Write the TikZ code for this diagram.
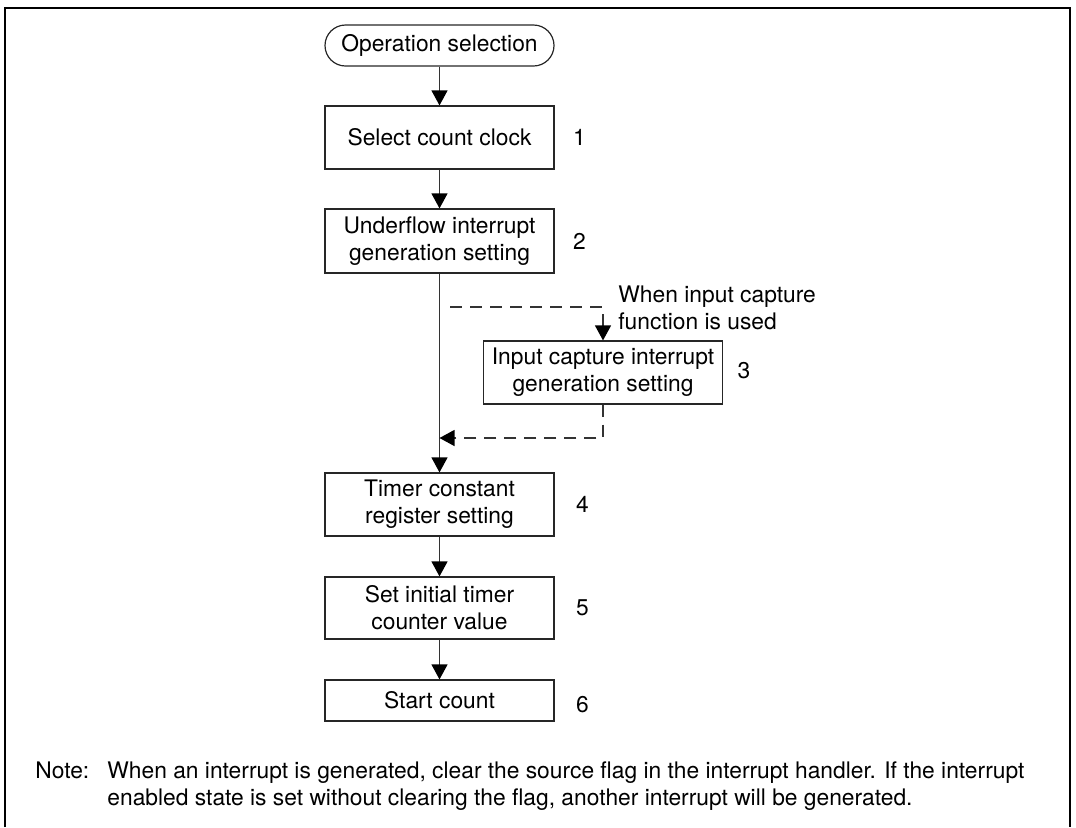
\documentclass[tikz,border=0pt]{standalone}
\usepackage{fontspec}
\setmainfont{TeX Gyre Heros}
\usetikzlibrary{positioning,arrows.meta}

\tikzset{
  stepbox/.style={draw=black!85,line width=0.6pt,minimum width=114.5pt,
    minimum height=31.5pt,align=center,inner sep=2pt},
  termbox/.style={stepbox,minimum height=20.5pt,rounded corners=10.25pt},
  num/.style={inner sep=0pt},
  flow/.style={draw=black!80,line width=0.6pt,
    -{Triangle[length=7.5pt,width=8pt,color=black]}},
  opt/.style={flow,dash pattern=on 6pt off 4pt}
}

\begin{document}
\begin{tikzpicture}[x=0.5pt,y=-0.5pt,font=\fontsize{11.4}{13.5}\selectfont]
  \useasboundingbox (0,0) rectangle (1076,827);
  \draw[line width=1pt] (5,827) -- (5,8) -- (1070,8) -- (1070,827);

  % main column
  \node[termbox] (start) at (439.5,45.5) {Operation selection};
  \node[stepbox] (s1) at (439.5,137.5) {Select count clock};
  \node[num,right=9pt of s1] (n1) {1};
  \node[stepbox,minimum height=32pt] (s2) at (439.5,241) {Underflow interrupt\\generation setting};
  \node[num,right=9pt of s2] (n2) {2};

  % optional step
  \node[stepbox,minimum width=119.5pt] (s3) at (603,372.5) {Input capture interrupt\\generation setting};
  \node[num,right=7pt of s3,yshift=1pt] (n3) {3};
  \node[inner sep=0pt,anchor=west,align=left] (cond) at (618,308) {When input capture\\function is used};

  \node[stepbox] (s4) at (439.5,504.5) {Timer constant\\register setting};
  \node[num,right=10.5pt of s4] (n4) {4};
  \node[stepbox,minimum height=31pt] (s5) at (439.5,608) {Set initial timer\\counter value};
  \node[num,right=10.5pt of s5] (n5) {5};
  \node[stepbox,minimum height=20.5pt] (s6) at (439.5,700.5) {Start count};
  \node[num,right=10.5pt of s6,yshift=-2pt] (n6) {6};

  \draw[flow] (start) -- (s1);
  \draw[flow] (s1) -- (s2);
  \draw[flow] (s2) -- (s4);
  \draw[flow] (s4) -- (s5);
  \draw[flow] (s5) -- (s6);

  \coordinate (optin) at (450,307);
  \coordinate (optout) at (s2.south |- 0,438);
  \draw[opt] (optin) -| (s3.north);
  \draw[opt] (s3.south) |- (optout);

  % note
  \node[anchor=base west,inner sep=0pt] (note) at (35,778) {Note:};
  \node[anchor=base west,inner sep=0pt] (note1) at (107,778) {When an interrupt is generated, clear the source flag in the interrupt handler. If the interrupt};
  \node[anchor=base west,inner sep=0pt] (note2) at (107,805) {enabled state is set without clearing the flag, another interrupt will be generated.};
\end{tikzpicture}
\end{document}
